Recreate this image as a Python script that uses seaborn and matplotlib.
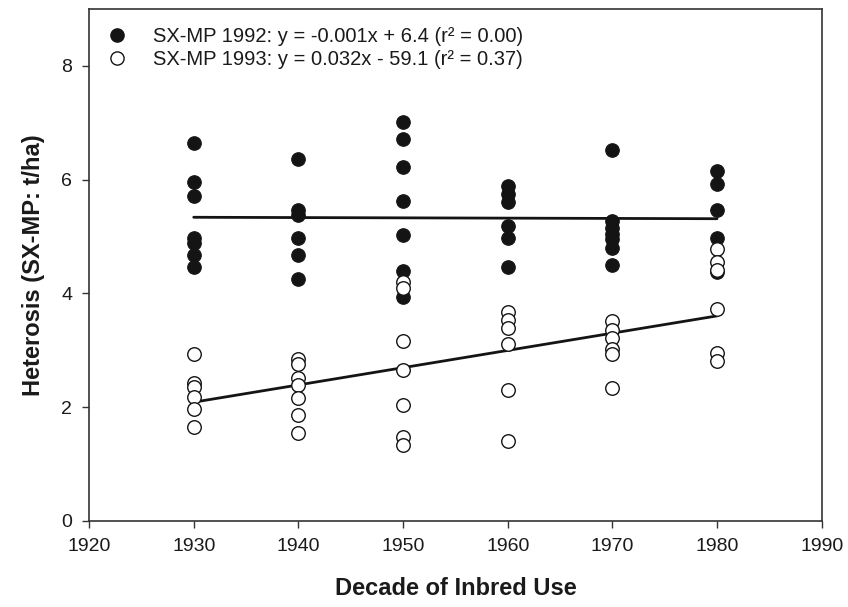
import numpy as np
import pandas as pd
import matplotlib
matplotlib.use("Agg")
import matplotlib.pyplot as plt
import seaborn as sns
from matplotlib.lines import Line2D

# ---- data ----
decades = [1930, 1940, 1950, 1960, 1970, 1980]
sx92 = {
    1930: [6.65, 5.95, 5.71, 4.97, 4.88, 4.68, 4.47],
    1940: [6.37, 5.47, 5.37, 4.98, 4.68, 4.26],
    1950: [7.01, 6.72, 6.23, 5.62, 5.02, 4.40, 3.94],
    1960: [5.88, 5.75, 5.60, 5.19, 4.98, 4.46],
    1970: [6.53, 5.28, 5.15, 5.05, 4.95, 4.80, 4.50],
    1980: [6.16, 5.93, 5.47, 4.97, 4.38],
}
sx93 = {
    1930: [2.93, 2.43, 2.35, 2.18, 1.97, 1.66],
    1940: [2.85, 2.76, 2.52, 2.39, 2.16, 1.86, 1.54],
    1950: [4.20, 4.09, 3.17, 2.65, 2.04, 1.48, 1.34],
    1960: [3.67, 3.53, 3.39, 3.11, 2.30, 1.41],
    1970: [3.52, 3.35, 3.21, 3.02, 2.93, 2.33],
    1980: [4.78, 4.55, 4.42, 3.72, 2.95, 2.81],
}
label92 = "SX-MP 1992: y = -0.001x + 6.4 (r\u00b2 = 0.00)"
label93 = "SX-MP 1993: y = 0.032x - 59.1 (r\u00b2 = 0.37)"
xlabel = "Decade of Inbred Use"
ylabel = "Heterosis (SX-MP: t/ha)"
xticks = [1920, 1930, 1940, 1950, 1960, 1970, 1980, 1990]
yticks = [0, 2, 4, 6, 8]

def to_df(d):
    rows = [(k, v) for k in decades for v in d[k]]
    return pd.DataFrame(rows, columns=["decade", "heterosis"])

df92 = to_df(sx92)
df93 = to_df(sx93)

sns.set_style("white")
plt.rcParams["font.family"] = ["Liberation Sans", "DejaVu Sans"]

fig = plt.figure(figsize=(8.48, 6.07), dpi=100)
ax = fig.add_axes([0.105, 0.1417, 0.864, 0.8435])

ink = "#141414"
sns.scatterplot(data=df92, x="decade", y="heterosis", ax=ax, s=95,
                color=ink, edgecolor=ink, linewidth=0.8, zorder=3)
sns.scatterplot(data=df93, x="decade", y="heterosis", ax=ax, s=95,
                facecolor="white", edgecolor=ink, linewidth=1.0, zorder=4)
sns.regplot(data=df92, x="decade", y="heterosis", ax=ax, scatter=False, ci=None,
            truncate=True, line_kws=dict(color=ink, lw=2.0, zorder=2))
sns.regplot(data=df93, x="decade", y="heterosis", ax=ax, scatter=False, ci=None,
            truncate=True, line_kws=dict(color=ink, lw=2.0, zorder=2))

ax.set_xlim(1920, 1990)
ax.set_ylim(0, 9)
ax.set_xticks(xticks)
ax.set_yticks(yticks)
ax.tick_params(axis="both", direction="out", length=5, width=1, labelsize=14,
               bottom=True, left=True, color="#333333", pad=7,
               labelcolor="#1a1a1a")
for s in ax.spines.values():
    s.set_visible(True)
    s.set_color("#333333")
    s.set_linewidth(1.2)
ax.set_xlabel(xlabel, fontsize=17, fontweight="bold", labelpad=16, color="#1a1a1a")
ax.set_ylabel(ylabel, fontsize=17, fontweight="bold", labelpad=12, color="#1a1a1a")

handles = [
    Line2D([], [], marker="o", linestyle="none", markersize=9.5,
           markerfacecolor=ink, markeredgecolor=ink),
    Line2D([], [], marker="o", linestyle="none", markersize=9.5,
           markerfacecolor="white", markeredgecolor=ink),
]
ax.legend(handles, [label92, label93], loc="upper left", frameon=False,
          fontsize=14.5, handletextpad=0.8, borderaxespad=0, borderpad=0,
          labelspacing=0.2, bbox_to_anchor=(0.011, 0.964),
          labelcolor="#1a1a1a")

fig.savefig("out.png", dpi=100)
